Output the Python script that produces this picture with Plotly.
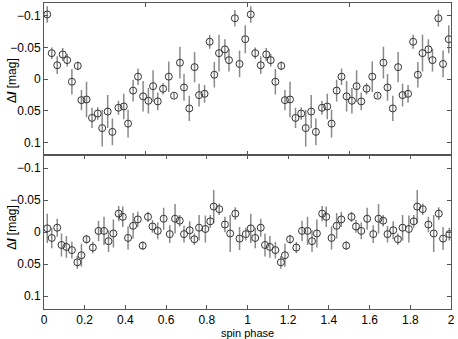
import numpy as np
import plotly.graph_objects as go
from plotly.subplots import make_subplots

# top panel: folded light curve (one cycle, shown twice)
top_phase = [0.016, 0.038, 0.065, 0.092, 0.114, 0.137, 0.166, 0.184, 0.209, 0.236,
             0.264, 0.286, 0.313, 0.336, 0.366, 0.392, 0.413, 0.438, 0.462, 0.487,
             0.513, 0.536, 0.559, 0.585, 0.613, 0.639, 0.668, 0.688, 0.714, 0.740,
             0.762, 0.789, 0.814, 0.837, 0.860, 0.889, 0.909, 0.938, 0.961, 0.989]
top_mag = [-0.102, -0.041, -0.022, -0.039, -0.030, 0.004, -0.021, 0.033, 0.032, 0.061,
           0.054, 0.077, 0.051, 0.083, 0.045, 0.043, 0.070, 0.018, -0.004, 0.027,
           0.034, 0.011, 0.035, 0.015, -0.004, 0.026, -0.026, 0.013, 0.046, -0.019,
           0.025, 0.023, -0.059, -0.007, -0.041, -0.047, -0.030, -0.096, -0.024, -0.063]
top_err = [0.013, 0.009, 0.014, 0.010, 0.010, 0.020, 0.007, 0.016, 0.028, 0.016,
           0.010, 0.029, 0.026, 0.021, 0.011, 0.020, 0.022, 0.017, 0.013, 0.024,
           0.020, 0.025, 0.014, 0.009, 0.024, 0.004, 0.025, 0.021, 0.020, 0.024,
           0.018, 0.014, 0.011, 0.020, 0.029, 0.016, 0.018, 0.013, 0.021, 0.022]

# bottom panel
bot_phase = [0.016, 0.038, 0.065, 0.086, 0.110, 0.137, 0.164, 0.184, 0.209, 0.240,
             0.268, 0.295, 0.317, 0.341, 0.367, 0.387, 0.413, 0.438, 0.461, 0.485,
             0.511, 0.533, 0.559, 0.588, 0.618, 0.644, 0.667, 0.688, 0.716, 0.739,
             0.762, 0.793, 0.817, 0.834, 0.861, 0.889, 0.915, 0.940, 0.961, 0.992]
bot_mag = [-0.006, 0.009, -0.007, 0.020, 0.023, 0.028, 0.047, 0.036, 0.011, 0.024,
           -0.002, -0.002, 0.014, 0.002, -0.029, -0.024, 0.009, -0.010, -0.020, 0.021,
           -0.024, -0.009, -0.002, -0.021, 0.003, -0.021, -0.018, 0.003, -0.003, 0.011,
           -0.007, -0.005, -0.017, -0.040, -0.036, -0.012, 0.002, -0.029, 0.010, 0.003]
bot_err = [0.023, 0.016, 0.014, 0.018, 0.017, 0.013, 0.010, 0.018, 0.007, 0.009,
           0.016, 0.022, 0.017, 0.022, 0.012, 0.016, 0.018, 0.020, 0.012, 0.007,
           0.008, 0.010, 0.013, 0.017, 0.014, 0.023, 0.009, 0.013, 0.014, 0.009,
           0.020, 0.021, 0.010, 0.026, 0.009, 0.012, 0.029, 0.010, 0.018, 0.010]

y_ticks = [-0.1, -0.05, 0, 0.05, 0.1]
y_ticktext = ["\u22120.1", "\u22120.05", "0", "0.05", "0.1"]
x_ticks = [0, 0.2, 0.4, 0.6, 0.8, 1, 1.2, 1.4, 1.6, 1.8, 2]
x_ticktext = ["0", "0.2", "0.4", "0.6", "0.8", "1", "1.2", "1.4", "1.6", "1.8", "2"]


def two_cycles(vals, shift):
    # repeat the folded cycle over phase 0-2
    return list(vals) + [v + shift for v in vals]


fig = make_subplots(rows=2, cols=1, shared_xaxes=True, vertical_spacing=0)

for row, ph, mag, err in [(1, top_phase, top_mag, top_err), (2, bot_phase, bot_mag, bot_err)]:
    fig.add_trace(go.Scatter(
        x=two_cycles(ph, 1),
        y=two_cycles(mag, 0),
        mode="markers",
        marker=dict(symbol="circle-open", size=7, color="#333333", line=dict(width=1)),
        error_y=dict(type="data", array=two_cycles(err, 0), color="#8a8a8a",
                     thickness=1.5, width=0),
        showlegend=False,
    ), row=row, col=1)

axis_common = dict(showline=True, linecolor="#555555", linewidth=1, mirror="ticks",
                   ticks="inside", ticklen=4, tickcolor="#555555", showgrid=False,
                   zeroline=False, automargin=False)

fig.update_xaxes(range=[0, 2], **axis_common)
fig.update_yaxes(range=[0.12, -0.12], tickvals=y_ticks, ticktext=y_ticktext, **axis_common)

fig.update_layout(
    width=458, height=339,
    margin=dict(l=44, r=7, t=3, b=30),
    plot_bgcolor="white", paper_bgcolor="white",
    font=dict(family="Liberation Sans, Arial, sans-serif", size=12, color="black"),
    xaxis=dict(tickvals=[0.5, 1, 1.5], showticklabels=False, domain=[0, 1]),
    yaxis=dict(domain=[0.502, 1]),
    xaxis2=dict(tickvals=x_ticks, ticktext=x_ticktext),
    yaxis2=dict(domain=[0, 0.502]),
)

for yp in [0.748, 0.268]:
    fig.add_annotation(text="\u0394<b><i>I</i></b> [mag]", xref="paper", yref="paper",
                       x=-0.079, y=yp, textangle=-90, showarrow=False,
                       xanchor="center", yanchor="middle", font=dict(size=12))

fig.add_annotation(text="spin phase", xref="paper", yref="paper", x=0.5, y=-0.08,
                   showarrow=False, xanchor="center", yanchor="middle", font=dict(size=11))

# drop the browser's default page margin so the figure sits at the top-left corner
fig.write_html("out.html", config={"displayModeBar": False},
               post_script="document.body.style.margin='0';")
